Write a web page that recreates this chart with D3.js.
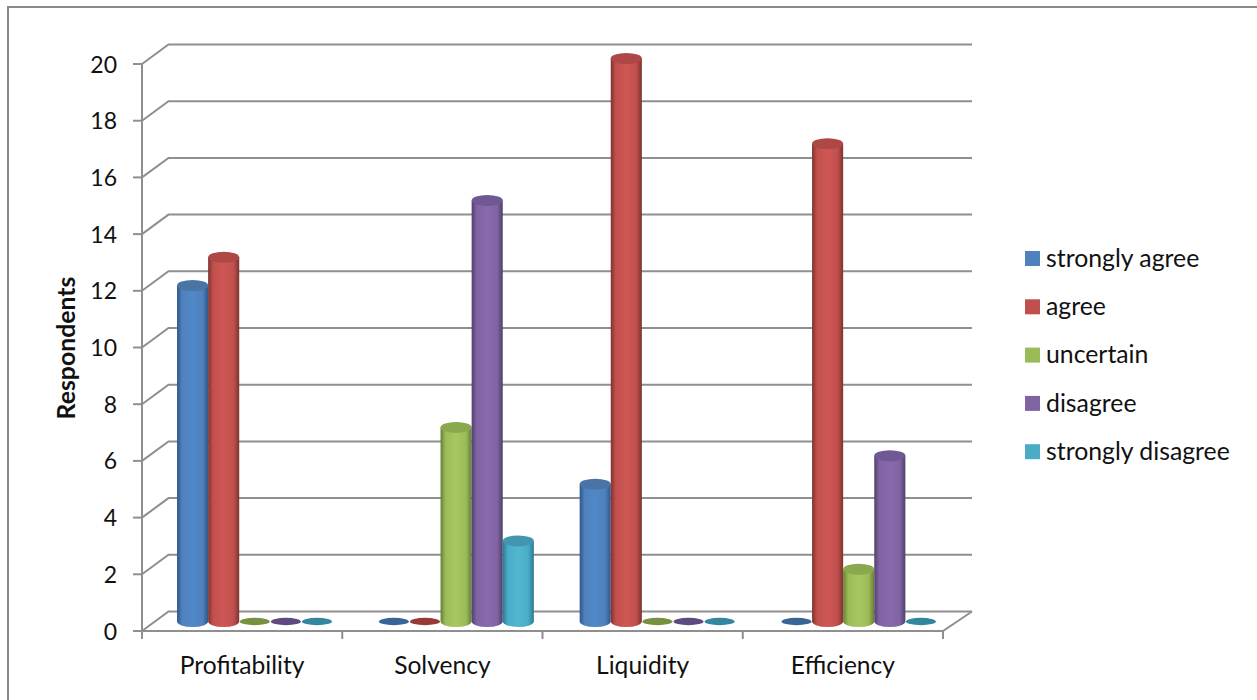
<!DOCTYPE html>
<html>
<head>
<meta charset="utf-8">
<script src="https://cdn.jsdelivr.net/npm/d3@7/dist/d3.min.js"></script>
<style>
  html, body { margin: 0; padding: 0; background: #fff; }
  svg { display: block; }
  text { font-family: Lato, "Open Sans", sans-serif; fill: #111; }
</style>
</head>
<body>
<svg id="chart" width="1257" height="700"></svg>
<script>
const categories = ["Profitability", "Solvency", "Liquidity", "Efficiency"];
const seriesNames = ["strongly agree", "agree", "uncertain", "disagree", "strongly disagree"];
const stronglyAgree = [12, 0, 5, 0];
const agree = [13, 0, 20, 17];
const uncertain = [0, 7, 0, 2];
const disagree = [0, 15, 0, 6];
const stronglyDisagree = [0, 3, 0, 0];
const seriesValues = [stronglyAgree, agree, uncertain, disagree, stronglyDisagree];
const yTicks = d3.range(0, 21, 2);

const swatchColors = ["#4f81bd", "#c0504d", "#9bbb59", "#8064a2", "#4bacc6"];
const edgeColors = ["#2f5788", "#7f3230", "#667e33", "#50406c", "#2a7a91"];
const midColors = ["#5088c8", "#cf5755", "#a7c860", "#8969ad", "#50b7d1"];
const topColors = ["#4a74a6", "#ad4846", "#8aa84e", "#705894", "#4297ae"];
const flatColors = ["#386496", "#963a38", "#779140", "#5f4a80", "#32879e"];

const svg = d3.select("#chart");
const gridColor = "#8f8f8f";

// Wall and floor geometry of the 3-D plot box
const frontLeft = 142, frontRight = 943, depthX = 26.5, depthY = -19.5;
const y = d3.scaleLinear().domain([0, 20]).range([631, 64]);
const xCat = d3.scaleBand().domain(categories).range([frontLeft, frontRight]);

// Column tops sit slightly behind the front axis; every column stands on floorY
const columnY = d3.scaleLinear().domain([0, 20]).range([626, 58.5]);
const floorY = 621.5;
const xGroup = d3.scaleBand().domain(categories).range([156.9, 956.6]).paddingInner(0.2275).paddingOuter(0.1);
const xBar = d3.scaleBand().domain(d3.range(seriesNames.length)).range([0, xGroup.bandwidth()]);

// Outer chart frame
svg.append("rect")
  .attr("x", 8).attr("y", 7).attr("width", 1270).attr("height", 720)
  .attr("fill", "#fff").attr("stroke", "#8a8a8a").attr("stroke-width", 2);

const defs = svg.append("defs");
seriesNames.forEach((name, i) => {
  const g = defs.append("linearGradient").attr("id", "cyl" + i);
  [[0, edgeColors[i]], [0.16, swatchColors[i]], [0.5, midColors[i]], [0.82, swatchColors[i]], [1, edgeColors[i]]]
    .forEach(([o, c]) => g.append("stop").attr("offset", o).attr("stop-color", c));
});

const grid = svg.append("g").attr("fill", "none").attr("stroke", gridColor).attr("stroke-width", 2);

// Back-wall gridlines with their slanted returns on the side wall
yTicks.forEach(t => {
  grid.append("path").attr("d", d3.line()([
    [frontLeft, y(t)],
    [frontLeft + depthX, y(t) + depthY],
    [frontRight + depthX + 2.5, y(t) + depthY]
  ]));
});

// Right floor edge and front floor edge
grid.append("path").attr("d", d3.line()([
  [frontRight + depthX + 2.5, y(0) + depthY],
  [frontRight, y(0)],
  [frontLeft, y(0)]
]));

// Value axis and tick marks
grid.append("line").attr("x1", frontLeft).attr("x2", frontLeft).attr("y1", y(20)).attr("y2", y(0));
yTicks.forEach(t => {
  grid.append("line").attr("x1", frontLeft - 9).attr("x2", frontLeft).attr("y1", y(t)).attr("y2", y(t));
});
categories.concat(null).forEach(c => {
  const px = c ? xCat(c) : frontRight;
  grid.append("line").attr("x1", px).attr("x2", px).attr("y1", y(0)).attr("y2", y(0) + 8);
});

// Cylindrical columns
const bars = svg.append("g");
const ry = 5.5;
seriesValues.forEach((vals, s) => {
  vals.forEach((v, c) => {
    const left = xGroup(categories[c]) + xBar(s);
    const w = xBar.bandwidth();
    const rx = w / 2;
    const cx = left + rx;
    if (v === 0) {
      // Zero values show as a flat disc on the floor
      bars.append("ellipse")
        .attr("cx", cx).attr("cy", floorY).attr("rx", rx - 0.5).attr("ry", 3.7)
        .attr("fill", flatColors[s]);
      return;
    }
    const yTop = columnY(v);
    bars.append("path")
      .attr("d", `M${left},${yTop}V${floorY}A${rx},${ry} 0 0 0 ${left + w},${floorY}V${yTop}Z`)
      .attr("fill", `url(#cyl${s})`);
    bars.append("ellipse")
      .attr("cx", cx).attr("cy", yTop).attr("rx", rx).attr("ry", ry)
      .attr("fill", topColors[s]);
  });
});

// Value tick labels
svg.append("g").selectAll("text").data(yTicks).join("text")
  .attr("x", 117).attr("y", d => y(d) + 8.5).attr("text-anchor", "end")
  .attr("font-size", 23).text(d => d);

// Category labels
svg.append("g").selectAll("text").data(categories).join("text")
  .attr("x", d => xCat(d) + xCat.bandwidth() / 2).attr("y", 674).attr("text-anchor", "middle")
  .attr("font-size", 24.6).text(d => d);

// Value axis title
svg.append("text")
  .attr("transform", "translate(75,348) rotate(-90)")
  .attr("text-anchor", "middle").attr("font-size", 24.8).attr("font-weight", 700)
  .text("Respondents");

// Legend
const legend = svg.append("g").selectAll("g").data(seriesNames).join("g")
  .attr("transform", (d, i) => `translate(1025,${251 + i * 48.3})`);
legend.append("rect").attr("width", 15).attr("height", 15).attr("fill", (d, i) => swatchColors[i]);
legend.append("text").attr("x", 21).attr("y", 15.7).attr("font-size", 24.8).text(d => d);
</script>
</body>
</html>
